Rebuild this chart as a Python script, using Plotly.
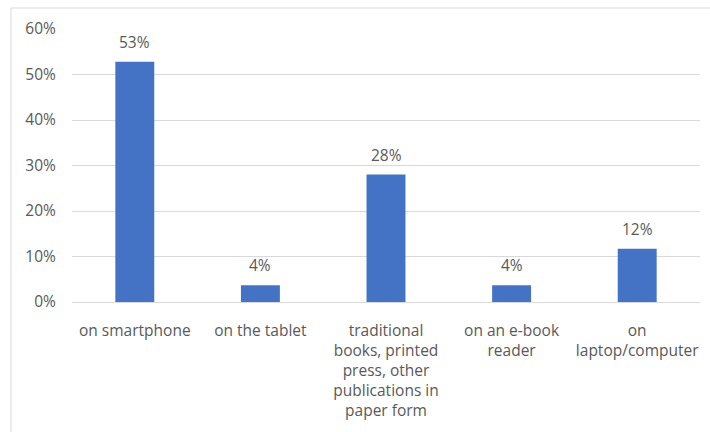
import plotly.graph_objects as go

categories = ["on smartphone", "on the tablet",
              "traditional<br>books, printed<br>press, other<br>publications in<br>paper form",
              "on an e-book<br>reader", "on<br>laptop/computer"]
values = [0.528, 0.037, 0.28, 0.037, 0.117]
ytick_vals = [0, 0.1, 0.2, 0.3, 0.4, 0.5, 0.6]
ytick_text = ["0%", "10%", "20%", "30%", "40%", "50%", "60%"]

FONT = "Open Sans"
GRAY = "#595959"
FS = 15.5

fig = go.Figure()
fig.add_trace(go.Bar(x=categories, y=values, marker_color="#4472C4",
                     marker_line_width=0, hoverinfo="skip"))

for c, v in zip(categories, values):
    fig.add_annotation(x=c, y=v, text=f"{round(v*100):.0f}%", showarrow=False,
                       yanchor="bottom", yshift=7,
                       font=dict(family=FONT, size=FS, color=GRAY))

fig.add_shape(type="rect", xref="paper", yref="paper",
              x0=(11 - 72) / 628, x1=1.2, y0=-0.8, y1=(302 - 8) / 273,
              line=dict(color="#d9d9d9", width=1), layer="below")

fig.update_layout(
    width=710, height=432,
    margin=dict(l=72, r=10, t=29, b=130),
    paper_bgcolor="white", plot_bgcolor="white",
    bargap=0.69, showlegend=False,
    font=dict(family=FONT, size=FS, color=GRAY),
)
fig.update_xaxes(showline=True, linecolor="#d9d9d9", linewidth=1,
                 ticks="outside", ticklen=14, tickcolor="rgba(0,0,0,0)",
                 tickfont=dict(family=FONT, size=FS, color=GRAY), fixedrange=True)
fig.update_yaxes(range=[0, 0.6], tickvals=ytick_vals, ticktext=ytick_text,
                 showgrid=True, gridcolor="#d9d9d9", gridwidth=1, zeroline=False,
                 ticks="outside", ticklen=12, tickcolor="rgba(0,0,0,0)",
                 tickfont=dict(family=FONT, size=FS, color=GRAY))

fig.write_html("out.html")
